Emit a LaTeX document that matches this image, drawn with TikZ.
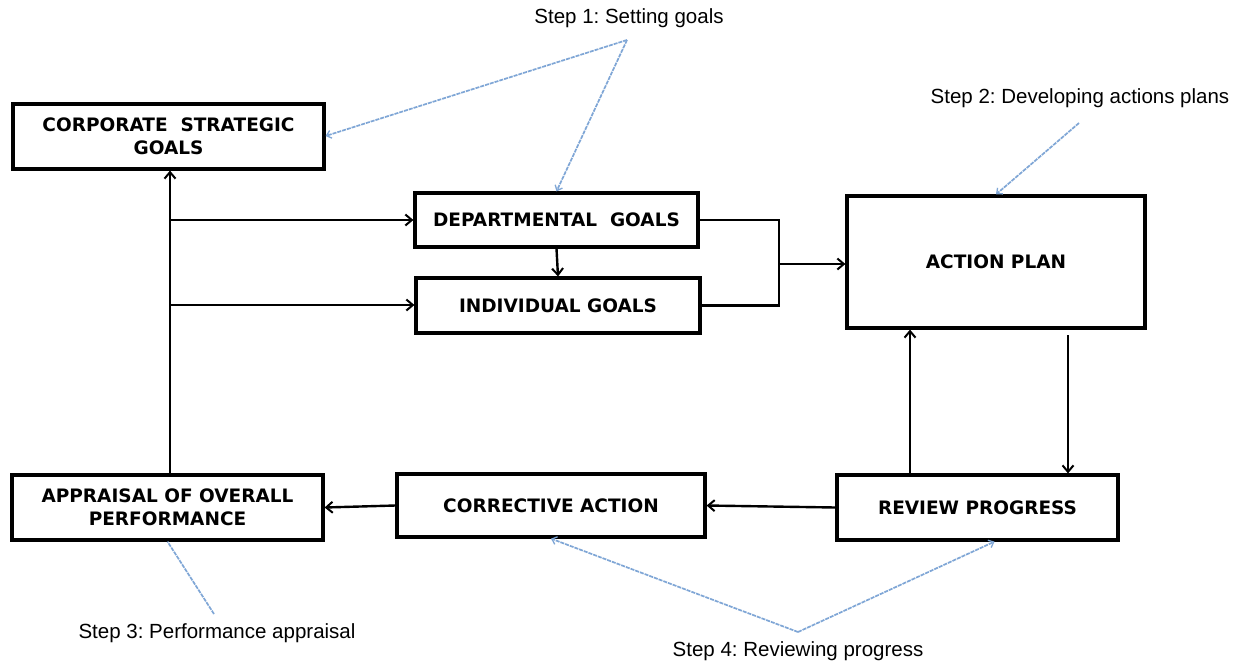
\documentclass[tikz,border=0pt]{standalone}
\usepackage{fontspec}
\setmainfont{Liberation Sans}
\newfontfamily\boxfont{DejaVu Sans}
\usetikzlibrary{arrows.meta}
\definecolor{stepblue}{HTML}{7FA6D6}
\frenchspacing
\tikzset{
  gbox/.style={draw=black, line width=3.2pt, fill=white, align=center, inner sep=2pt,
    font=\boxfont\bfseries\fontsize{18.5}{23}\selectfont},
  arr/.style={draw=black, line width=2.4pt, -{Straight Barb[length=6.5pt,width=11pt,line width=2pt]}},
  plain/.style={draw=black, line width=2.4pt},
  steptxt/.style={font=\fontsize{20.5}{24}\selectfont, inner sep=1pt},
  blue/.style={draw=stepblue, line width=1.7pt, dash pattern=on 4pt off 1pt},
  bluearr/.style={blue, -{Straight Barb[length=4.5pt,width=8pt,line width=1.3pt]}}
}
\begin{document}
\begin{tikzpicture}[x=1pt,y=-1pt]
\useasboundingbox (0,0) rectangle (1244,664);
\fill[white] (0,0) rectangle (1244,664);

\node[gbox, minimum width=311pt, minimum height=65pt] (corp) at (168.5,136.5) {CORPORATE\ \ STRATEGIC\\GOALS};
\node[gbox, minimum width=283pt, minimum height=54pt] (dept) at (556.5,220) {DEPARTMENTAL\ \ GOALS};
\node[gbox, minimum width=284pt, minimum height=55pt] (ind) at (558,305.5) {INDIVIDUAL GOALS};
\node[gbox, minimum width=298pt, minimum height=132pt] (act) at (996,262) {ACTION PLAN};
\node[gbox, minimum width=281pt, minimum height=65pt] (rev) at (977.5,507.5) {REVIEW PROGRESS};
\node[gbox, minimum width=308pt, minimum height=63pt] (cor) at (551,505.5) {CORRECTIVE ACTION};
\node[gbox, minimum width=311pt, minimum height=65pt] (app) at (167.5,507.5) {APPRAISAL OF OVERALL\\PERFORMANCE};

\node[steptxt] (s1) at (629,18) {Step 1: Setting goals};
\node[steptxt] (s2) at (1080,98) {Step 2: Developing actions plans};
\node[steptxt] (s3) at (217,633) {Step 3: Performance appraisal};
\node[steptxt] (s4) at (798,651) {Step 4: Reviewing progress};

% black connectors
\coordinate (vx) at (170,0);
\coordinate (jd) at (170,220);
\coordinate (ji) at (170,305);
\coordinate (mj) at (779,264);
\coordinate (ux) at (910,0);
\coordinate (dx) at (1068,335);

\draw[arr] (app.north -| vx) -- (corp.south -| vx);
\draw[arr] (jd) -- (dept.west |- jd);
\draw[arr] (ji) -- (ind.west |- ji);
\draw[arr] (dept.south) -- (ind.north);
\draw[plain] (dept.east) -| (mj);
\draw[plain] (ind.east) -| (mj);
\draw[arr] (mj) -- (act.west |- mj);
\draw[arr] (rev.north -| ux) -- (act.south -| ux);
\draw[arr] (dx) -- (rev.north -| dx);
\draw[arr] (rev.west) -- (cor.east);
\draw[arr] (cor.west) -- (app.east);

% blue step pointers
\coordinate (b1) at (627,40);
\coordinate (b2) at (1079,123);
\coordinate (b3) at (214,614);
\coordinate (b4) at (798,632);
\draw[bluearr] (b1) -- ([yshift=0.5pt]corp.east);
\draw[bluearr] (b1) -- (dept.north);
\draw[bluearr] (b2) -- (act.north);
\draw[blue] (b3) -- (app.south);
\draw[bluearr] (b4) -- (cor.south);
\draw[bluearr] (b4) -- ([xshift=17pt]rev.south);
\end{tikzpicture}
\end{document}
